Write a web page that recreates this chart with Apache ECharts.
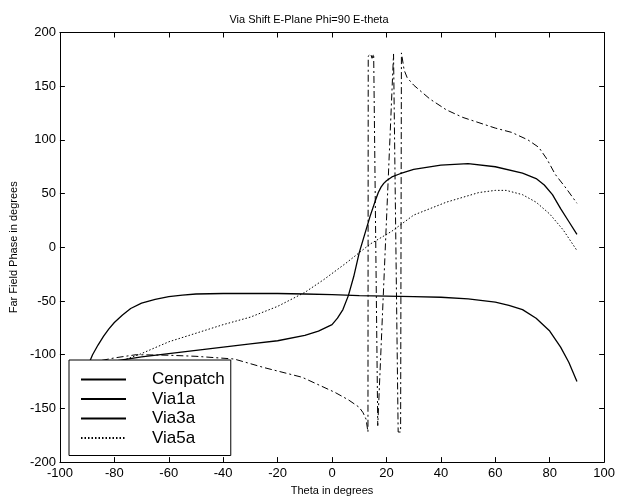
<!DOCTYPE html>
<html>
<head>
<meta charset="utf-8">
<script src="https://cdn.jsdelivr.net/npm/echarts@6/dist/echarts.min.js"></script>
<style>
html,body{margin:0;padding:0;background:#fff;}
#chart{width:618px;height:501px;}
</style>
</head>
<body>
<div id="chart"></div>
<script>
// ---- data ----
var titleText = 'Via Shift E-Plane Phi=90 E-theta';
var xAxisName = 'Theta in degrees';
var yAxisName = 'Far Field Phase in degrees';
var seriesNames = ['Cenpatch', 'Via1a', 'Via3a', 'Via5a'];

var cenTheta = [-90, -88, -86, -84, -82, -80, -77, -74, -70, -65, -60, -55, -50, -40, -30, -20, -10, 0, 10, 20, 30, 40, 50, 60, 65, 70, 75, 80, 84, 87, 90];
var cenPhase = [-112, -100, -91, -83, -76, -70, -63, -57, -52, -48.5, -46, -44.5, -43.5, -43, -43, -43, -43.5, -44, -45, -45.5, -46, -46.5, -48, -51, -54, -58, -66, -78, -93, -107, -125];

var via1Theta = [-90, -80, -70, -60, -50, -40, -30, -20, -10, -5, 0, 2, 4, 6, 8, 10, 12, 14, 16, 17, 18, 19, 20, 22, 25, 30, 40, 50, 60, 70, 75, 78, 81, 84, 87, 90];
var via1Phase = [-112, -106, -102, -99, -96, -93, -90, -87, -82, -78, -72, -66, -58, -45, -27, -5, 12, 29, 44, 51, 56, 59.5, 62, 65.5, 68.5, 72.5, 76.5, 78, 75, 69, 64, 58, 49, 36, 24, 12];

var via3Theta = [-90, -80, -72, -60, -50, -36, -25, -11, 1, 6, 10, 11.4, 12.5, 13.2, 13.3, 14.2, 14.7, 15.3, 16.8, 22.6, 24.3, 25.2, 25.5, 26.5, 27.6, 30, 36, 42, 48, 54, 60, 66, 72, 76, 79, 82, 86, 90];
var via3Phase = [-108, -103, -100, -100.5, -101.5, -104, -112, -121, -135, -142, -149, -154, -160, -172, 178, 180, 176, 180, -166, 180, -172, -172, 181, 165, 158, 151, 138, 128, 121, 116, 111, 107, 100, 93, 82, 68, 55, 41];

var via5Theta = [-90, -80, -71, -60, -50, -40, -30, -20, -10, -3, 5, 14, 22, 30, 42, 54, 60, 64, 70, 75, 80, 85, 90];
var via5Phase = [-118, -108, -100, -88, -80, -72, -65, -55, -42, -30, -15, 3, 15, 30, 42, 51, 53, 53, 49, 42, 31, 16, -3];

var xTicks = {min: -100, max: 100, step: 20};
var yTicks = {min: -200, max: 200, step: 50};

function pairs(xs, ys) {
  var out = [];
  for (var i = 0; i < xs.length; i++) out.push([xs[i], ys[i]]);
  return out;
}

var FONT = 'Liberation Sans, Arial, sans-serif';
var chart = echarts.init(document.getElementById('chart'), null, {renderer: 'canvas'});

function axisBase(pos, t, showLabel) {
  return {
    type: 'value', position: pos, min: t.min, max: t.max, interval: t.step,
    axisLine: {show: true, onZero: false, lineStyle: {color: '#000', width: 1}},
    axisTick: {show: true, inside: true, length: 5, lineStyle: {color: '#000'}},
    axisLabel: {show: showLabel, color: '#000', fontSize: 13, fontFamily: FONT, margin: 5},
    splitLine: {show: false}
  };
}

var xBottom = axisBase('bottom', xTicks, true);
xBottom.name = xAxisName; xBottom.nameLocation = 'middle'; xBottom.nameGap = 19;
xBottom.nameTextStyle = {color: '#000', fontSize: 11, fontFamily: FONT};
var xTop = axisBase('top', xTicks, false);
var yLeft = axisBase('left', yTicks, true);
yLeft.axisLabel.margin = 4;
yLeft.name = yAxisName; yLeft.nameLocation = 'middle'; yLeft.nameGap = 36; yLeft.nameRotate = 90;
yLeft.nameTextStyle = {color: '#000', fontSize: 11, fontFamily: FONT};
var yRight = axisBase('right', yTicks, false);

function lineSeries(name, xs, ys, type, width) {
  return {
    name: name, type: 'line', xAxisIndex: 0, yAxisIndex: 0,
    data: pairs(xs, ys), symbol: 'none', showSymbol: false, smooth: false, clip: true,
    lineStyle: {color: '#000', width: width, type: type},
    itemStyle: {color: '#000'}
  };
}

var hiddenSym = {opacity: 0, color: 'rgba(0,0,0,0)', borderWidth: 0};
var option = {
  animation: false,
  backgroundColor: '#fff',
  title: {
    text: titleText, left: 'center', top: 9,
    textStyle: {color: '#000', fontSize: 11, fontWeight: 'normal', fontFamily: FONT}
  },
  grid: {left: 55, right: 10, top: 32.5, bottom: 33.5, containLabel: false},
  xAxis: [xBottom, xTop],
  yAxis: [yLeft, yRight],
  legend: {
    orient: 'vertical', left: 69, top: 360,
    backgroundColor: '#fff', borderColor: '#000', borderWidth: 1,
    padding: [11, 6, 9, 11],
    itemWidth: 45, itemHeight: 14, itemGap: 2.5,
    itemStyle: hiddenSym,
    textStyle: {color: '#000', fontSize: 17, fontFamily: FONT, padding: [0, 0, 0, 21]},
    data: [
      {name: seriesNames[0], itemStyle: hiddenSym},
      {name: seriesNames[1], itemStyle: hiddenSym},
      {name: seriesNames[2], itemStyle: hiddenSym, lineStyle: {type: 'solid'}},
      {name: seriesNames[3], itemStyle: hiddenSym}
    ]
  },
  series: [
    lineSeries(seriesNames[0], cenTheta, cenPhase, 'solid', 1.3),
    lineSeries(seriesNames[1], via1Theta, via1Phase, 'solid', 1.3),
    lineSeries(seriesNames[2], via3Theta, via3Phase, [7, 3, 2, 3], 1),
    lineSeries(seriesNames[3], via5Theta, via5Phase, [1.5, 2], 1)
  ]
};
chart.setOption(option);
</script>
</body>
</html>
